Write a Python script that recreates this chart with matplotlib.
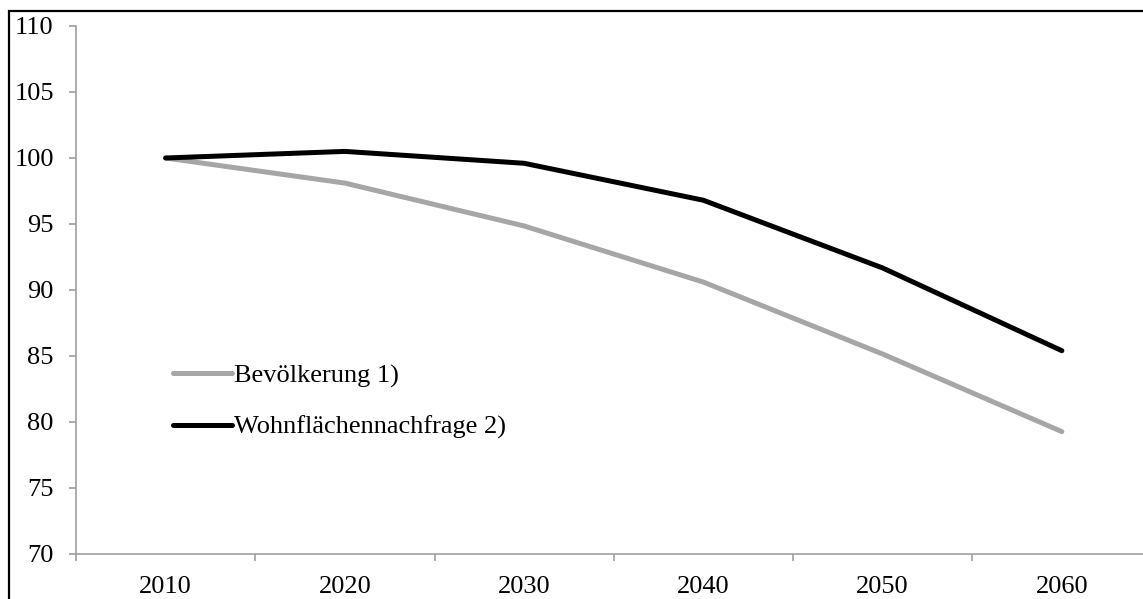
import matplotlib
matplotlib.use("Agg")
import matplotlib.pyplot as plt
from matplotlib.patches import Rectangle
import numpy as np

years = ["2010", "2020", "2030", "2040", "2050", "2060"]
bevoelkerung = [100.0, 98.1, 94.85, 90.6, 85.15, 79.27]
wohnflaeche = [100.0, 100.5, 99.6, 96.8, 91.67, 85.4]
labels = ["Bevölkerung 1)", "Wohnflächennachfrage 2)"]
yticks = [70, 75, 80, 85, 90, 95, 100, 105, 110]

plt.rcParams['font.family'] = ['Liberation Serif', 'DejaVu Serif']

W, H = 1143, 599
fig = plt.figure(figsize=(W / 100, H / 100), dpi=100)
fig.patch.set_facecolor('white')

# outer frame (partially cut off at right/bottom)
fig.patches.append(Rectangle((8.5 / W, -0.1), 1.2, 1 - 10.5 / H + 0.1,
                             transform=fig.transFigure, fill=False,
                             edgecolor='black', linewidth=1.6, zorder=0))

ax = fig.add_axes([76 / W, 1 - 554 / H, (6 * 179.25) / W, (554 - 26) / H])
x = np.arange(len(years))
ax.plot(x, bevoelkerung, color='#A6A6A6', lw=3.6, solid_capstyle='round',
        solid_joinstyle='round', label=labels[0])
ax.plot(x, wohnflaeche, color='black', lw=3.6, solid_capstyle='round',
        solid_joinstyle='round', label=labels[1])

ax.set_xlim(-0.5, len(years) - 0.5)
ax.set_ylim(70, 110)
ax.set_yticks(yticks)
ax.set_yticklabels([str(v) for v in yticks])
ax.set_xticks(np.arange(-0.5, len(years), 1.0))
ax.set_xticklabels([])
ax.set_xticks(x, minor=True)
ax.set_xticklabels(years, minor=True)

for s in ['top', 'right']:
    ax.spines[s].set_visible(False)
for s in ['left', 'bottom']:
    ax.spines[s].set_color('#A0A0A0')
    ax.spines[s].set_linewidth(1.2)

ax.tick_params(axis='y', direction='out', length=5, width=1.2, color='#A0A0A0',
               labelsize=19, pad=11, labelcolor='black')
ax.tick_params(axis='x', which='major', direction='out', length=5, width=1.2,
               color='#A0A0A0')
ax.tick_params(axis='x', which='minor', length=0, labelsize=19, pad=16,
               labelcolor='black')

leg = ax.legend(loc='upper left', bbox_to_anchor=(97 / (6 * 179.25), 1 - (364 - 26) / 528),
                frameon=False, fontsize=19, handlelength=2.25, handletextpad=0.08,
                labelspacing=1.04, borderaxespad=0, borderpad=0)

fig.savefig('out.png', dpi=100, facecolor='white')
